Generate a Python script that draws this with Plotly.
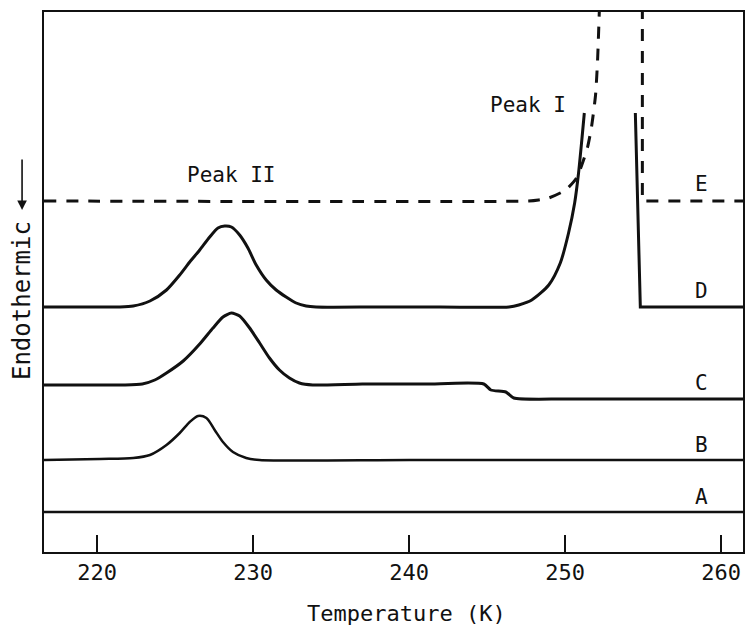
import plotly.graph_objects as go

# Temperature axis (K)
T_MIN, T_MAX = 216.6, 261.4
x_ticks = [220, 230, 240, 250, 260]

# Curve A (flat)
A_T = [216.6, 261.4]
A_y = [40, 40]

# Curve B
B_T = [216.6, 220.19, 222.32, 223.39, 224.45, 225.30, 225.94, 226.47, 227.01, 227.54, 228.07, 228.71, 229.56, 230.42, 240.0, 250.0, 261.4]
B_y = [92, 93, 94, 97, 107, 119, 130, 136, 134, 122, 110, 100, 94, 92, 92, 92, 92]

# Curve C
C_T = [216.6, 220.19, 221.8, 222.9, 223.7, 224.45, 225.52, 226.58, 227.43, 228.07, 228.61, 229.14, 229.78, 230.42, 231.05, 231.69, 232.33, 232.97, 233.82, 237.0, 241.0, 244.79, 245.24, 246.2, 246.71, 250.0, 261.4]
C_y = [167, 167, 167, 168, 172, 179, 191, 208, 224, 235, 239, 236, 224, 209, 194, 182, 174, 169, 167, 168, 168, 168, 162, 160, 154, 153, 153]

# Curve D (left: peak II + rising edge of peak I; right: falling edge)
D1_T = [216.6, 220.19, 221.47, 222.32, 223.39, 224.45, 225.30, 225.94, 226.58, 227.22, 227.75, 228.18, 228.61, 229.14, 229.67, 230.20, 230.84, 231.48, 232.12, 232.76, 233.40, 234.04, 238.0, 242.0, 246.4, 247.03, 247.86, 248.95, 249.69, 250.22, 250.61, 250.86, 251.07, 251.23]
D1_y = [245, 245, 245, 246, 251, 262, 277, 290, 302, 315, 324, 326, 325, 317, 304, 287, 272, 262, 255, 249, 246, 245, 245, 245, 245, 247, 252, 267, 289, 319, 349, 379, 412, 439]
D2_T = [254.5, 254.82, 261.4]
D2_y = [439, 245, 245]

# Curve E (dashed)
E1_T = [216.6, 247.67, 248.3, 248.95, 250.03, 250.73, 251.18, 251.44, 251.69, 251.95, 252.08, 252.2]
E1_y = [351, 351, 352, 354, 362, 374, 392, 405, 425, 457, 492, 545]
E2_T = [254.95, 254.95, 261.4]
E2_y = [545, 351, 351]

curve_labels = ["E", "D", "C", "B", "A"]
label_T = [258.72, 258.72, 258.72, 258.72, 258.72]
label_y = [368, 261, 169, 107, 55]

FONT = "DejaVu Sans Mono"
INK = "#111111"

fig = go.Figure()

def add(xs, ys, dash="solid", width=3, shape="spline", smooth=0.6):
    fig.add_trace(go.Scatter(x=xs, y=ys, mode="lines",
                             line=dict(color=INK, width=width, dash=dash, shape=shape, smoothing=smooth),
                             showlegend=False, hoverinfo="skip"))

add(A_T, A_y, width=2.5, shape="linear")
add(B_T, B_y, width=2.5, smooth=0.8)
add(C_T, C_y, smooth=0.6)
add(D1_T, D1_y, smooth=0.7)
add(D2_T, D2_y, shape="linear")
add(E1_T, E1_y, dash="12px,10px", smooth=0.6)
add(E2_T, E2_y, dash="12px,10px", shape="linear")

for lab, tx, ty in zip(curve_labels, label_T, label_y):
    fig.add_annotation(x=tx, y=ty, text=lab, showarrow=False,
                       font=dict(family=FONT, size=21, color=INK))

fig.add_annotation(x=228.59, y=377, text="Peak II", showarrow=False,
                   font=dict(family=FONT, size=21, color=INK))
fig.add_annotation(x=247.6, y=447, text="Peak I", showarrow=False,
                   font=dict(family=FONT, size=21, color=INK))

# axis titles
fig.add_annotation(xref="paper", yref="paper", x=(408 - 44) / 701, y=(552 - 613) / 540,
                   xanchor="center", yanchor="middle",
                   text="Temperature (K)", showarrow=False,
                   font=dict(family=FONT, size=22, color=INK))
fig.add_annotation(xref="paper", yref="paper", x=(22 - 44) / 701, y=(552 - 301) / 540,
                   xanchor="center", yanchor="middle",
                   text="Endothermic", showarrow=False, textangle=-90,
                   font=dict(family=FONT, size=24, color=INK))
fig.add_annotation(xref="paper", yref="paper", x=(22 - 44) / 701, y=(552 - 210) / 540,
                   ax=0, ay=-52, text="", showarrow=True,
                   arrowhead=2, arrowsize=1.2, arrowwidth=1.6, arrowcolor=INK)

fig.update_layout(
    width=748, height=627,
    margin=dict(l=44, r=3, t=12, b=75),
    paper_bgcolor="white", plot_bgcolor="white",
    xaxis=dict(range=[T_MIN, T_MAX], tickvals=x_ticks, ticktext=[str(v) for v in x_ticks],
               ticks="inside", ticklen=17, tickwidth=2, tickcolor=INK,
               showline=True, linecolor=INK, linewidth=2, mirror=True,
               showgrid=False, zeroline=False, ticklabelstandoff=0,
               tickfont=dict(family=FONT, size=22, color=INK)),
    yaxis=dict(range=[0, 540], showticklabels=False, ticks="",
               showline=True, linecolor=INK, linewidth=2, mirror=True,
               showgrid=False, zeroline=False),
)

fig.write_html("out.html")
